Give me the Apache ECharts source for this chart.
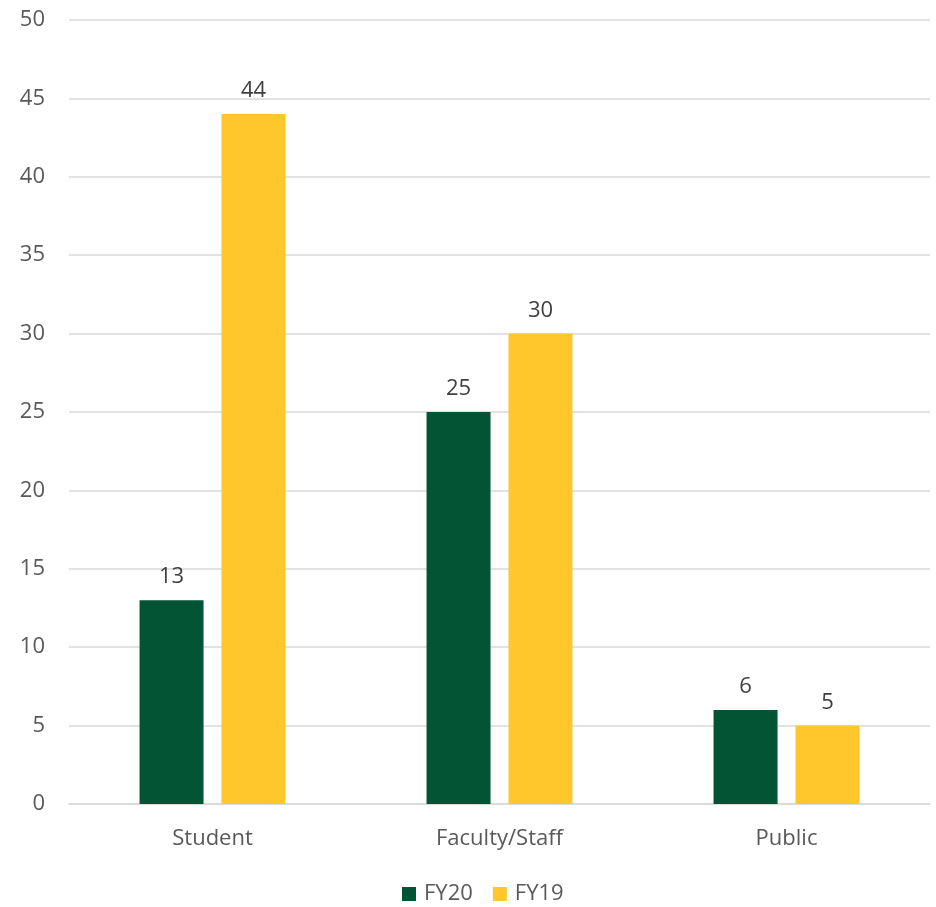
<!DOCTYPE html>
<html>
<head>
<meta charset="utf-8">
<script src="https://cdn.jsdelivr.net/npm/echarts@6/dist/echarts.min.js"></script>
<style>html,body{margin:0;padding:0;background:#fff}#c{width:936px;height:907px}</style>
</head>
<body>
<div id="c"></div>
<script>
const categories = ['Student', 'Faculty/Staff', 'Public'];
const fy20 = [13, 25, 6];
const fy19 = [44, 30, 5];
const seriesNames = ['FY20', 'FY19'];

const chart = echarts.init(document.getElementById('c'));
const font = '"Open Sans", "Noto Sans", sans-serif';
chart.setOption({
  animation: false,
  textStyle: { fontFamily: font },
  grid: { left: 69, right: 6, top: 20, bottom: 103, containLabel: false },
  legend: {
    top: 878, left: 397,
    itemWidth: 14, itemHeight: 14, itemGap: 20,
    icon: 'rect',
    textStyle: { fontSize: 22, color: '#595959', fontFamily: font, padding: [0, 0, 0, 3] },
    data: seriesNames
  },
  xAxis: {
    type: 'category', data: categories,
    axisLine: { lineStyle: { color: '#d9d9d9', width: 1.5 } },
    axisTick: { show: false },
    axisLabel: { fontSize: 22, color: '#595959', margin: 24, fontFamily: font }
  },
  yAxis: {
    type: 'value', min: 0, max: 50, interval: 5,
    axisLine: { show: false }, axisTick: { show: false },
    splitLine: { lineStyle: { color: '#d9d9d9', width: 1.5 } },
    axisLabel: { fontSize: 22, color: '#595959', margin: 24, fontFamily: font, align: 'right' }
  },
  series: [
    { name: 'FY20', type: 'bar', data: fy20, barWidth: 64, barGap: '28%',
      itemStyle: { color: '#035434' },
      label: { show: true, position: 'top', distance: 12, fontSize: 22, color: '#404040', fontFamily: font } },
    { name: 'FY19', type: 'bar', data: fy19, barWidth: 64,
      itemStyle: { color: '#FFC72C' },
      label: { show: true, position: 'top', distance: 12, fontSize: 22, color: '#404040', fontFamily: font } }
  ]
});
</script>
</body>
</html>
